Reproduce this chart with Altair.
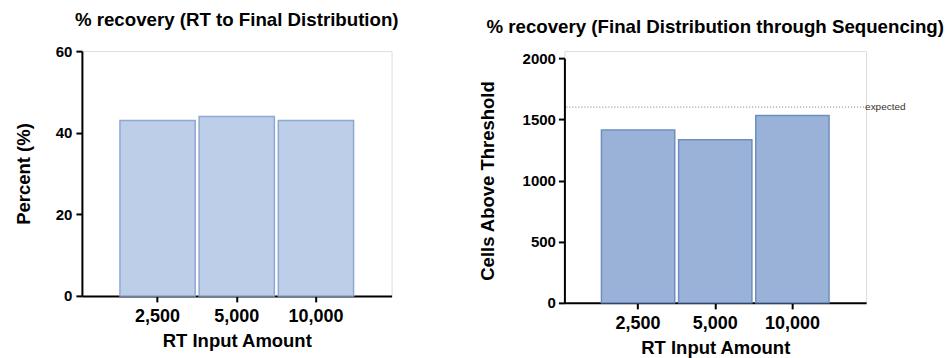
import altair as alt
import pandas as pd

# ---- data ----
categories = ["2,500", "5,000", "10,000"]
recovery_pct = [43, 44, 43]
cells_above = [1412, 1334, 1532]
expected_value = [1600]
expected_label = ["expected"]

left_title = "% recovery (RT to Final Distribution)"
right_title = "% recovery (Final Distribution through Sequencing)"

FONT = "Liberation Sans"

df1 = pd.DataFrame({"amount": categories, "pct": recovery_pct})
df2 = pd.DataFrame({"amount": categories, "cells": cells_above})
df_exp = pd.DataFrame({"y": expected_value, "label": expected_label})

W1, W2, H = 310, 302, 245
SHIFT = 7  # right panel sits a bit lower than the left one


def xenc():
    return alt.X(
        "amount:N",
        sort=categories,
        title="RT Input Amount",
        scale=alt.Scale(paddingInner=0.05, paddingOuter=0.48),
        axis=alt.Axis(
            labelAngle=0, labelFontSize=18, labelFont=FONT, labelFontWeight="bold",
            labelColor="black", titleFontSize=18.5, titleFont=FONT, titleFontWeight="bold",
            titleColor="black", domainColor="black", domainWidth=2, tickColor="black",
            tickWidth=2, tickSize=6, labelPadding=6, titlePadding=6, grid=False,
        ),
    )


def yaxis(values, label_pad, title_pad):
    return alt.Axis(
        values=values, format="d", labelFontSize=15, labelFont=FONT, labelFontWeight="bold",
        labelColor="black", titleFontSize=18.5, titleFont=FONT, titleFontWeight="bold",
        titleColor="black", domainColor="black", domainWidth=2, tickColor="black",
        tickWidth=2, tickSize=6, labelPadding=label_pad, titlePadding=title_pad, grid=False,
    )


left = (
    alt.Chart(df1)
    .mark_bar(fill="#BDCFE8", stroke="#8EA8D1", strokeWidth=1.5)
    .encode(
        x=xenc(),
        y=alt.Y("pct:Q", title="Percent (%)", scale=alt.Scale(domain=[0, 60]),
                axis=yaxis([0, 20, 40, 60], 4, 22)),
    )
    .properties(
        width=W1, height=H,
        title=alt.TitleParams(left_title, font=FONT, fontSize=18.7, fontWeight="bold",
                              color="black", frame="group", anchor="middle", offset=14),
    )
)

bars2 = (
    alt.Chart(df2)
    .mark_bar(fill="#9AB2D8", stroke="#6E8EC1", strokeWidth=1.5)
    .encode(
        x=xenc(),
        y=alt.Y("cells:Q", title="Cells Above Threshold",
                scale=alt.Scale(domain=[0, 2000], range=[H + SHIFT, SHIFT]),
                axis=yaxis([0, 500, 1000, 1500, 2000], 3, 25)),
    )
)

rule = (
    alt.Chart(df_exp)
    .mark_rule(color="#777777", strokeWidth=1, strokeDash=[1, 2])
    .encode(y="y:Q", x=alt.value(2), x2=alt.value(W2 - 2))
)

label = (
    alt.Chart(df_exp)
    .mark_text(align="left", baseline="middle", font=FONT, fontSize=10, color="#333333", dx=1)
    .encode(y="y:Q", x=alt.value(W2 - 2), text="label:N")
)

right = (
    alt.layer(bars2, rule, label)
    .properties(
        width=W2, height=H + SHIFT,
        title=alt.TitleParams(right_title, font=FONT, fontSize=18.7, fontWeight="bold",
                              color="black", frame="group", anchor="middle", offset=14),
    )
)

chart = (
    alt.hconcat(left, right, spacing=78)
    .properties(padding={"left": 13, "top": 10, "right": 5, "bottom": 0})
    .configure_view(strokeWidth=0)
    .configure(background="white")
)

chart.save("out.html", embed_options={"renderer": "svg", "actions": False})
